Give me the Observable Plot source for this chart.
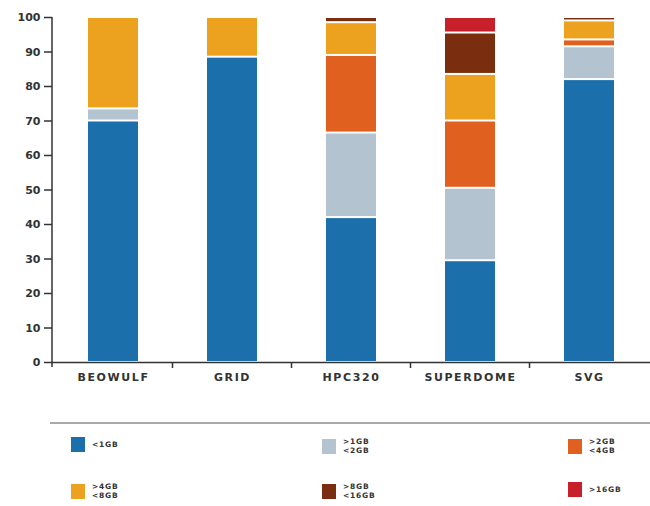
<!DOCTYPE html>
<html>
<head>
<meta charset="utf-8">
<script src="https://cdn.jsdelivr.net/npm/d3@7"></script>
<script src="https://cdn.jsdelivr.net/npm/@observablehq/plot@0.6"></script>
<style>
  html, body { margin: 0; padding: 0; background: #fff; }
  #wrap { position: relative; width: 650px; height: 506px; font-family: "DejaVu Sans", Verdana, sans-serif; }
  #chart svg g[aria-label="x-axis tick label"] text { letter-spacing: 1.6px; }
  #legend { position: absolute; left: 0; top: 400px; width: 650px; height: 106px; }
  #legend .line { position: absolute; left: 50px; top: 22px; width: 600px; height: 0; border-top: 2px solid #a9a9a9; }
  #legend .item { position: absolute; display: flex; align-items: center; }
  #legend .sw { width: 14px; height: 15px; }
  #legend .txt { font-size: 7.5px; font-weight: bold; color: #333; line-height: 9px; letter-spacing: 0.8px; margin-left: 7px; }
</style>
</head>
<body>
<div id="wrap">
  <div id="chart"></div>
  <div id="legend"><div class="line"></div></div>
</div>
<script>
const categories = ["BEOWULF", "GRID", "HPC320", "SUPERDOME", "SVG"];
const series = ["<1GB", ">1GB <2GB", ">2GB <4GB", ">4GB <8GB", ">8GB <16GB", ">16GB"];
const lt1GB    = [70,   88.5, 42,   29.5, 82];
const gb1to2   = [3.5,  0,    24.5, 21,   9.5];
const gb2to4   = [0,    0,    22.5, 19.5, 2];
const gb4to8   = [26.5, 11.5, 9.5,  13.5, 5.5];
const gb8to16  = [0,    0,    1.5,  12,   1];
const gt16GB   = [0,    0,    0,    4.5,  0];
const yTicks = [0, 10, 20, 30, 40, 50, 60, 70, 80, 90, 100];
const colors = ["#1b6faa", "#b3c3cf", "#e0601f", "#eca21f", "#7a2d0f", "#c8202a"];

const seriesValues = [lt1GB, gb1to2, gb2to4, gb4to8, gb8to16, gt16GB];
const data = categories.flatMap((c, i) =>
  seriesValues.map((vals, j) => ({category: c, series: series[j], value: vals[i]}))
).filter(d => d.value > 0);

const chart = Plot.plot({
  width: 650,
  height: 400,
  marginTop: 17,
  marginBottom: 38,
  marginLeft: 52,
  marginRight: 0,
  style: {fontFamily: "DejaVu Sans, Verdana, sans-serif", color: "#333", background: "#fff"},
  x: {domain: categories, paddingInner: 0.58, paddingOuter: 0.29, label: null},
  y: {domain: [0, 100], label: null},
  color: {domain: series, range: colors},
  marks: [
    Plot.barY(data, {x: "category", y: "value", fill: "series", order: series, insetTop: 1, insetBottom: 1}),
    Plot.axisY({ticks: yTicks, tickSize: 8, tickPadding: 4, fontWeight: "bold", fontSize: 11, label: null, strokeWidth: 1.5}),
    Plot.axisX({tickSize: 0, tickPadding: 11, fontWeight: "bold", fontSize: 11, label: null}),
    Plot.ruleY([0], {stroke: "#333", strokeWidth: 1.5})
  ]
});
document.getElementById("chart").appendChild(chart);

// axis line and band-boundary ticks from the plot's own scales
const xs = chart.scale("x");
const ys = chart.scale("y");
const svg = d3.select(chart);
const y0 = ys.apply(0);
const x0 = xs.range[0];
svg.append("line")
  .attr("x1", x0).attr("x2", x0)
  .attr("y1", ys.apply(100)).attr("y2", y0 + 5)
  .attr("stroke", "#333").attr("stroke-width", 1.5);
const bounds = categories.slice(0, -1).map((c, i) =>
  (xs.apply(c) + xs.bandwidth + xs.apply(categories[i + 1])) / 2);
svg.selectAll("line.btick").data(bounds).join("line")
  .attr("class", "btick")
  .attr("x1", d => d).attr("x2", d => d)
  .attr("y1", y0).attr("y2", y0 + 6)
  .attr("stroke", "#333").attr("stroke-width", 1.5);

// legend
const legend = document.getElementById("legend");
const colLeft = [71, 322, 568];
const rowTop = [37, 82];
series.forEach((s, i) => {
  const item = document.createElement("div");
  item.className = "item";
  item.style.left = colLeft[i % 3] + "px";
  item.style.top = rowTop[Math.floor(i / 3)] + "px";
  const sw = document.createElement("div");
  sw.className = "sw";
  sw.style.background = colors[i];
  const txt = document.createElement("div");
  txt.className = "txt";
  txt.innerHTML = s.split(" ").map(t => t.replace("<", "&lt;").replace(">", "&gt;")).join("<br>");
  item.appendChild(sw);
  item.appendChild(txt);
  legend.appendChild(item);
});
</script>
</body>
</html>
